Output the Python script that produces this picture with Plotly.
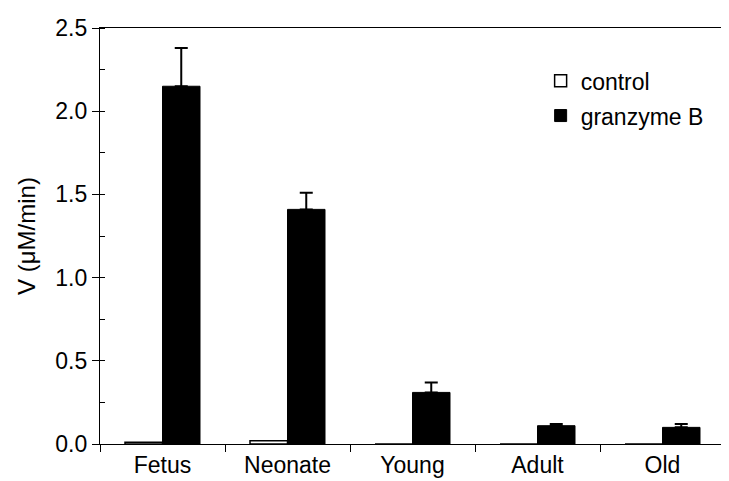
import plotly.graph_objects as go

categories = ["Fetus", "Neonate", "Young", "Adult", "Old"]
control = [0.01, 0.02, 0.0, 0.0, 0.0]
granzyme = [2.15, 1.41, 0.31, 0.11, 0.10]
granzyme_err = [0.23, 0.10, 0.06, 0.01, 0.02]
y_ticks = [0.0, 0.5, 1.0, 1.5, 2.0, 2.5]
y_ticklabels = ["0.0", "0.5", "1.0", "1.5", "2.0", "2.5"]

font = "Liberation Sans, Arial, Helvetica, sans-serif"

fig = go.Figure()
fig.add_trace(go.Bar(
    x=categories, y=control, name="control", legendgroup="c",
    marker=dict(color="white", line=dict(color="black", width=1.5)),
))
fig.add_trace(go.Bar(
    x=categories, y=granzyme, name="granzyme B", legendgroup="g",
    marker=dict(color="black", line=dict(color="black", width=1)),
    error_y=dict(type="data", array=granzyme_err, arrayminus=[0]*len(granzyme_err),
                 symmetric=False, color="black", thickness=2, width=6.5),
))

fig.update_layout(
    width=729, height=481,
    margin=dict(l=92, r=12, t=20, b=45, autoexpand=False),
    plot_bgcolor="white", paper_bgcolor="white",
    bargap=0.4, bargroupgap=0,
    font=dict(family=font, size=23, color="black"),
    legend=dict(x=0.705, y=0.925, xanchor="left", yanchor="top",
                bgcolor="rgba(0,0,0,0)", font=dict(size=23),
                traceorder="grouped", tracegroupgap=2, itemwidth=30),
    xaxis=dict(
        type="category", tickson="boundaries", ticks="outside", ticklen=7,
        tickcolor="black", showline=True, linecolor="black", linewidth=1.2,
        mirror=True, showgrid=False, tickfont=dict(size=23), automargin=False,
    ),
    yaxis=dict(
        range=[0, 2.5], tickvals=y_ticks, ticktext=y_ticklabels,
        ticks="outside", ticklen=7, tickcolor="black",
        showline=True, linecolor="black", linewidth=1.2, mirror=True,
        showgrid=False, zeroline=False, tickfont=dict(size=23), automargin=False,
        minor=dict(dtick=0.25, ticks="inside", ticklen=5, tickcolor="black", showgrid=False),
        title=dict(text="V (μM/min)", font=dict(size=24), standoff=12),
    ),
)

fig.write_html("out.html")
